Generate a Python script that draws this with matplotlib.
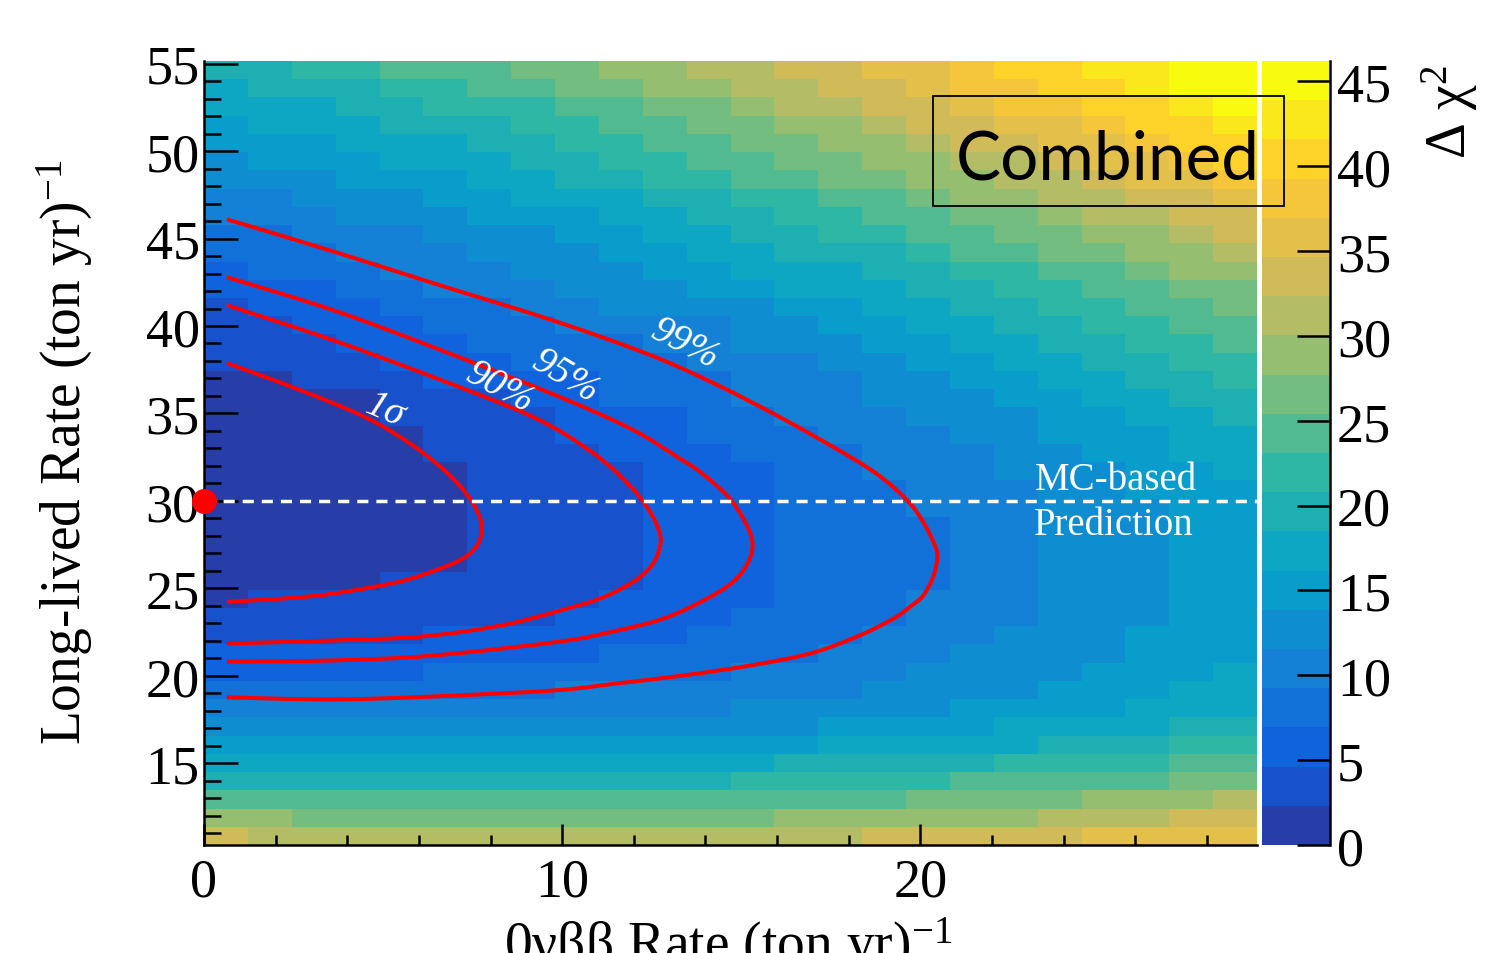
import numpy as np
import matplotlib
matplotlib.use('Agg')
import matplotlib.pyplot as plt
from matplotlib.colors import ListedColormap, BoundaryNorm, LinearSegmentedColormap
from matplotlib.patches import Rectangle, PathPatch
from matplotlib.path import Path
from matplotlib.ticker import MultipleLocator

plt.rcParams['font.family'] = ['Liberation Serif', 'DejaVu Serif']
plt.rcParams['mathtext.fontset'] = 'custom'
plt.rcParams['mathtext.rm'] = 'Liberation Serif'
plt.rcParams['mathtext.it'] = 'Liberation Serif:italic'
plt.rcParams['mathtext.default'] = 'regular'

# delta chi2 map: one string per row (top row first),
# one char per column, char = colour band (0-9, a-j), each band 2.31 wide
chi2_rows = [
    "8899aaabbccddeeffghhiijj",
    "788899aabbccddeefgghhijj",
    "77788999aabbcddeefgghhij",
    "677788899aabbccdeeffghhi",
    "6667778899aabbccdeeffghh",
    "56667778899aabbccddeffgh",
    "555666778899aabbccddeffg",
    "44555667778899aabccddeef",
    "444555666778899aabbcddee",
    "3344455566778899aabbccde",
    "33344455566778889aabbccd",
    "2333444555667778899aabcc",
    "22233444555667778899aabb",
    "122233344555566778899aab",
    "1122233344445566778899aa",
    "11122233334455566778899a",
    "111122233334445566778899",
    "001112222333444556677889",
    "000011122333444555667788",
    "000011112223344455566778",
    "000001112223334445566677",
    "000001111222333444556677",
    "000000111122233444555667",
    "000000111122233344455666",
    "000000111122233344455566",
    "000000111122233334455566",
    "000000111122233334455566",
    "000000111122233334455566",
    "000011111122233334455566",
    "011111111222233344455566",
    "111111112222333344455566",
    "111112222223333444555666",
    "222222222333334445555666",
    "222223333333444455556667",
    "333333334444444555566677",
    "444444444444555556666777",
    "555555555555556666777788",
    "666666666666667777788899",
    "7777777777777888889999aa",
    "88888888888899999aaaaabb",
    "aaaaaaaaaaaaaaaabbbbcccd",
    "ccbbbbbbbbbbbccccccdddee",
    "eddddddddddddddeeeeeffff",
]
band = 2.31
n_band = 20
x_edges = np.linspace(0.0, 29.4, 25)
y_edges = np.linspace(10.33, 55.15, 44)

# contour lines (x, y)
sig1_x = [0.64, 2.68, 4.55, 5.81, 6.79, 7.43, 7.74, 7.68, 7.35, 6.73, 5.47, 3.60, 2.21, 0.64]
sig1_y = [37.88, 36.34, 34.74, 33.20, 31.60, 30.12, 28.75, 27.67, 26.87, 26.24, 25.39, 24.70, 24.42, 24.24]
c90_x = [0.64, 3.60, 6.40, 9.19, 10.78, 11.76, 12.40, 12.74, 12.65, 12.37, 11.90, 11.06, 9.94, 8.27, 6.09, 3.60, 0.64]
c90_y = [41.19, 39.19, 37.08, 34.80, 32.86, 31.15, 29.55, 28.01, 26.87, 26.01, 25.27, 24.42, 23.73, 22.87, 22.25, 22.02, 21.85]
c95_x = [0.64, 3.60, 6.40, 9.94, 11.98, 13.21, 13.85, 14.61, 15.06, 15.31, 15.20, 14.78, 13.94, 12.82, 11.54, 9.94, 6.40, 3.60, 0.64]
c95_y = [42.79, 40.91, 38.79, 35.94, 34.06, 32.52, 31.66, 30.29, 28.98, 27.67, 26.53, 25.39, 24.30, 23.27, 22.59, 21.96, 21.16, 20.88, 20.82]
c99_x = [0.64, 3.60, 6.40, 9.80, 12.46, 14.33, 16.17, 18.04, 18.97, 19.72, 20.14, 20.42, 20.47, 20.36,
         20.08, 19.72, 19.25, 18.24, 16.93, 15.25, 13.38, 11.54, 9.80, 6.40, 3.60, 0.64]
c99_y = [46.10, 44.27, 42.45, 40.28, 38.34, 36.63, 34.69, 32.52, 31.26, 29.84, 28.58, 27.38, 26.70, 25.67,
         24.59, 23.96, 23.27, 22.25, 21.28, 20.59, 20.02, 19.57, 19.17, 18.82, 18.65, 18.77]
contour_labels = ['1σ', '90%', '95%', '99%']
label_x = [5.06, 8.27, 10.08, 13.44]
label_y = [35.20, 36.51, 37.14, 38.97]
label_rot = [-23, -28, -31, -27]

mc_pred = 30.0

# ROOT kBird palette
stops = [0.0, 0.125, 0.25, 0.375, 0.5, 0.625, 0.75, 0.875, 1.0]
red = [0.2082, 0.0592, 0.0780, 0.0232, 0.1802, 0.5301, 0.8186, 0.9956, 0.9764]
green = [0.1664, 0.3599, 0.5041, 0.6419, 0.7178, 0.7492, 0.7328, 0.7862, 0.9832]
blue = [0.5293, 0.8684, 0.8385, 0.7914, 0.6425, 0.4662, 0.3499, 0.1968, 0.0539]
bird = LinearSegmentedColormap.from_list('bird', list(zip(stops, zip(red, green, blue))), N=255)
cols = [bird(min(int((i + 0.99) * 255 / n_band), 254)) for i in range(n_band)]
cmap = ListedColormap(cols)
bounds = np.arange(n_band + 1) * band
norm = BoundaryNorm(bounds, n_band)

levels = np.array([[int(ch, 36) for ch in row] for row in chi2_rows[::-1]])
dchi2 = (levels + 0.5) * band


def smooth_path(xs, ys):
    # catmull-rom through the read points, drawn as bezier segments
    p = np.column_stack([xs, ys])
    ext = np.vstack([p[0], p, p[-1]])
    verts = [p[0]]
    codes = [Path.MOVETO]
    for i in range(1, len(ext) - 2):
        c1 = ext[i] + (ext[i + 1] - ext[i - 1]) / 6
        c2 = ext[i + 1] - (ext[i + 2] - ext[i]) / 6
        verts += [c1, c2, ext[i + 1]]
        codes += [Path.CURVE4] * 3
    return Path(verts, codes)


W, H = 1485, 954
fig = plt.figure(figsize=(W / 100, H / 100), dpi=100)
ax = fig.add_axes([204 / W, 108 / H, 1053 / W, 784 / H])

mesh = ax.pcolormesh(x_edges, y_edges, dchi2, cmap=cmap, norm=norm,
                     edgecolors='none', antialiased=False)

for cx, cy in [(sig1_x, sig1_y), (c90_x, c90_y), (c95_x, c95_y), (c99_x, c99_y)]:
    ax.add_patch(PathPatch(smooth_path(cx, cy), fill=False, ec='#ff0000', lw=2.9, zorder=4))

for t, lx, ly, rot in zip(contour_labels, label_x, label_y, label_rot):
    ax.text(lx, ly, t, color='white', style='italic', fontsize=28, rotation=rot,
            rotation_mode='anchor', ha='center', va='center', zorder=5)

ax.axhline(mc_pred, color='white', lw=2.5, ls=(0, (3.2, 2.3)), zorder=4)
ax.plot([0], [mc_pred], 'o', color='#ff0000', ms=17, clip_on=False, zorder=7)
ax.text(25.45, 30.69, 'MC-based', color='white', fontsize=28, ha='center', va='baseline', zorder=5)
ax.text(25.40, 28.12, 'Prediction', color='white', fontsize=28, ha='center', va='baseline', zorder=5)

ax.set_xlim(0, 29.4)
ax.set_ylim(10.33, 55.15)
ax.xaxis.set_major_locator(MultipleLocator(10))
ax.xaxis.set_minor_locator(MultipleLocator(2))
ax.yaxis.set_major_locator(MultipleLocator(5))
ax.yaxis.set_minor_locator(MultipleLocator(1))
ax.tick_params(axis='both', which='both', direction='in', width=1.8, labelsize=39)
ax.tick_params(axis='y', which='major', length=24.5, pad=3)
ax.tick_params(axis='y', which='minor', length=12)
ax.tick_params(axis='x', which='major', length=15, pad=9)
ax.tick_params(axis='x', which='minor', length=7)
for s in ['top', 'right']:
    ax.spines[s].set_visible(False)
for s in ['left', 'bottom']:
    ax.spines[s].set_linewidth(1.8)

cax = fig.add_axes([1262 / W, 108 / H, 68 / W, 784 / H])
cb = fig.colorbar(mesh, cax=cax, ticks=range(0, 46, 5))
cb.outline.set_visible(False)
cb.minorticks_off()
cax.spines['right'].set_visible(True)
cax.spines['right'].set_linewidth(1.8)
cax.tick_params(axis='y', direction='in', length=24, width=1.8, labelsize=39, pad=5,
                right=True, left=False)

fig.text(65 / W, 1 - 452 / H, 'Long-lived Rate (ton yr)$^{-1}$', rotation=90,
         ha='center', va='center', fontsize=40)
fig.text(728 / W, 1 - 962 / H, '0νββ Rate (ton yr)$^{-1}$', ha='center', va='baseline', fontsize=40)
fig.text(1450 / W, 1 - 112 / H, r'$\Delta\ \chi^{2}$', rotation=90, ha='center', va='center', fontsize=40)

fig.add_artist(Rectangle((933 / W, 1 - 207 / H), 351 / W, 110 / H, transform=fig.transFigure,
                         fill=False, ec='black', lw=1.3, zorder=10))
fig.text(1108 / W, 1 - 179 / H, 'Combined', family=['Lato', 'DejaVu Sans'], fontsize=48.6,
         ha='center', va='baseline', zorder=11)

fig.savefig('out.png', dpi=100)
